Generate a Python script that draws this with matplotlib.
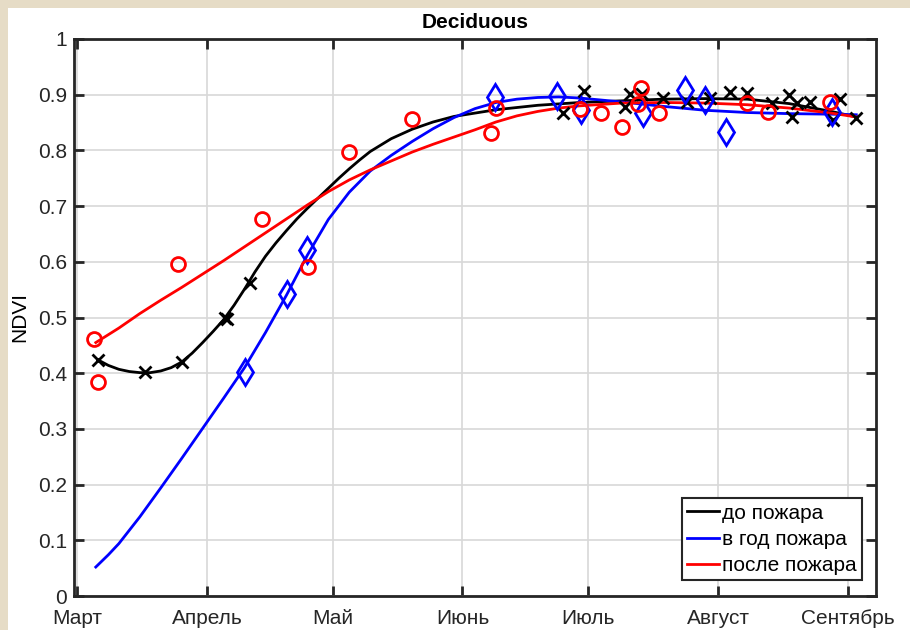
import matplotlib.pyplot as plt
import matplotlib.patches as patches
import numpy as np

# ---- data (day of year, NDVI) ----
month_days = [60, 91, 121, 152, 182, 213, 244]
month_names = ['Март', 'Апрель', 'Май', 'Июнь', 'Июль', 'Август', 'Сентябрь']

# до пожара (black x)
before_day = [65.0, 76.2, 85.1, 95.3, 95.9, 101.3, 176.0, 181.0, 190.8, 192.0, 194.8,
              199.9, 205.6, 211.1, 215.8, 219.9, 225.9, 229.9, 230.6, 231.8, 234.9,
              240.4, 242.1, 245.9]
before_ndvi = [0.424, 0.402, 0.420, 0.499, 0.497, 0.562, 0.867, 0.907, 0.878, 0.901, 0.901,
               0.894, 0.887, 0.894, 0.905, 0.903, 0.885, 0.899, 0.860, 0.885, 0.887,
               0.855, 0.892, 0.858]

# в год пожара (blue diamonds)
during_day = [100.1, 110.1, 114.9, 159.8, 174.6, 180.3, 195.1, 205.1, 209.9, 214.9, 240.2]
during_ndvi = [0.402, 0.542, 0.621, 0.896, 0.898, 0.873, 0.867, 0.908, 0.890, 0.833, 0.869]

# после пожара (red circles)
after_day = [64.1, 65.0, 84.1, 104.2, 115.1, 124.9, 140.0, 158.8, 160.0, 180.0, 185.1,
             190.1, 193.9, 194.6, 198.9, 219.9, 224.9, 239.7]
after_ndvi = [0.461, 0.384, 0.596, 0.677, 0.591, 0.797, 0.856, 0.831, 0.876, 0.874, 0.867,
              0.842, 0.883, 0.912, 0.867, 0.885, 0.869, 0.887]

# fitted curves
before_fit_day = [65, 67.5, 70, 72.5, 75, 77.5, 80, 82.5, 85, 87.5, 90, 92.5, 95, 97.5, 100,
                  102.5, 105, 107.5, 110, 112.5, 115, 117.5, 120, 122.5, 125, 127.5, 130,
                  135, 140, 145, 150, 160, 170, 180, 190, 200, 210, 220, 230, 240, 246]
before_fit_ndvi = [0.424, 0.414, 0.407, 0.403, 0.401, 0.401, 0.404, 0.410, 0.420, 0.436,
                   0.455, 0.475, 0.496, 0.522, 0.551, 0.582, 0.610, 0.634, 0.656, 0.677,
                   0.696, 0.714, 0.732, 0.750, 0.767, 0.783, 0.798, 0.821, 0.838, 0.851,
                   0.861, 0.873, 0.881, 0.886, 0.889, 0.892, 0.893, 0.892, 0.884, 0.870,
                   0.860]

during_fit_day = [64.5, 67.5, 70, 75, 80, 85, 90, 95, 100, 105, 110, 115, 120, 125, 130, 135,
                  140, 145, 150, 155, 160, 165, 170, 175, 180, 190, 200, 210, 220, 230, 240,
                  246]
during_fit_ndvi = [0.052, 0.074, 0.094, 0.142, 0.194, 0.247, 0.301, 0.355, 0.410, 0.473,
                   0.540, 0.612, 0.676, 0.725, 0.763, 0.791, 0.816, 0.839, 0.859, 0.875,
                   0.886, 0.892, 0.895, 0.896, 0.894, 0.887, 0.879, 0.872, 0.868, 0.866,
                   0.865, 0.864]

after_fit_day = [64.5, 70, 75, 80, 85, 90, 95, 100, 105, 110, 115, 120, 125, 130, 135, 140,
                 145, 150, 155, 160, 165, 170, 175, 180, 190, 200, 210, 220, 230, 240, 246]
after_fit_ndvi = [0.455, 0.481, 0.507, 0.531, 0.554, 0.578, 0.602, 0.627, 0.652, 0.677,
                  0.702, 0.726, 0.747, 0.765, 0.781, 0.797, 0.811, 0.824, 0.837, 0.851,
                  0.862, 0.870, 0.876, 0.880, 0.885, 0.886, 0.885, 0.882, 0.876, 0.867,
                  0.860]

plt.rcParams['font.family'] = ['Liberation Sans', 'DejaVu Sans']

fig = plt.figure(figsize=(9.1, 6.3), dpi=100)
fig.patch.set_facecolor('#e6dcc6')
# white panel inside the beige border
fig.patches.append(patches.Rectangle((8 / 910, 0), 1, 1 - 8 / 630, transform=fig.transFigure,
                                     facecolor='white', edgecolor='none', zorder=-1))

ax = fig.add_axes([74 / 910, 34 / 630, 802 / 910, 557 / 630])

ax.plot(before_fit_day, before_fit_ndvi, color='black', lw=2, label='до пожара')
ax.plot(during_fit_day, during_fit_ndvi, color='blue', lw=2, label='в год пожара')
ax.plot(after_fit_day, after_fit_ndvi, color='red', lw=2, label='после пожара')

ax.plot(before_day, before_ndvi, 'x', color='black', ms=8, mew=2)
ax.plot(during_day, during_ndvi, 'd', color='blue', mfc='none', ms=13, mew=2)
ax.plot(after_day, after_ndvi, 'o', color='red', mfc='none', ms=10, mew=2)

ax.set_xlim(59.3, 250.7)
ax.set_ylim(0, 1)
ax.set_xticks(month_days)
ax.set_xticklabels(month_names)
ax.set_yticks(np.arange(0, 1.01, 0.1))
ax.set_yticklabels(['%g' % round(v, 1) for v in np.arange(0, 1.01, 0.1)])

ax.grid(True, color='#d8d8d8', lw=1.2)
ax.set_axisbelow(True)
for s in ax.spines.values():
    s.set_linewidth(2)
    s.set_color('#262626')
ax.tick_params(direction='in', length=7, width=2, color='#262626', labelsize=15,
               top=True, right=True, labelcolor='#262626')
ax.tick_params(axis='x', pad=9)
ax.tick_params(axis='y', pad=5)

ax.set_title('Deciduous', fontsize=15, fontweight='bold', pad=8)
ax.set_ylabel('NDVI', fontsize=15, labelpad=6)

leg = ax.legend(loc='lower right', bbox_to_anchor=(0.982, 0.028), borderaxespad=0,
                fontsize=15, handlelength=1.5, handletextpad=0.15, labelspacing=0.35,
                borderpad=0.25, fancybox=False, framealpha=1)
leg.get_frame().set_edgecolor('#262626')
leg.get_frame().set_linewidth(1.5)

fig.savefig('out.png', dpi=100, facecolor=fig.get_facecolor())
